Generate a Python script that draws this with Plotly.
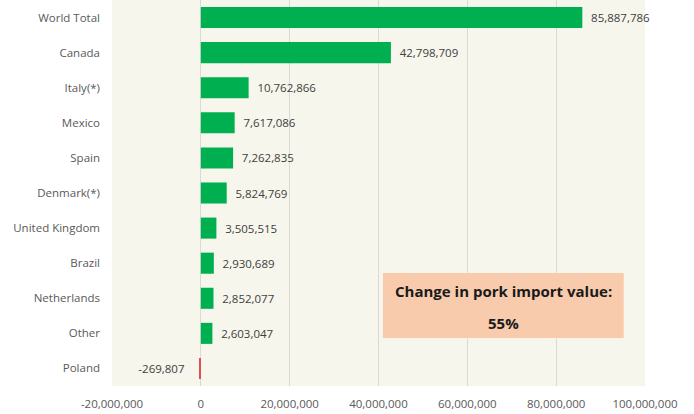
import plotly.graph_objects as go

countries = ["World Total", "Canada", "Italy(*)", "Mexico", "Spain", "Denmark(*)",
             "United Kingdom", "Brazil", "Netherlands", "Other", "Poland"]
values = [85887786, 42798709, 10762866, 7617086, 7262835, 5824769,
          3505515, 2930689, 2852077, 2603047, -269807]
tick_vals = [-20000000, 0, 20000000, 40000000, 60000000, 80000000, 100000000]
tick_text = ["-20,000,000", "0", "20,000,000", "40,000,000", "60,000,000", "80,000,000", "100,000,000"]

colors = ["#00b050" if v >= 0 else "#e05050" for v in values]
labels = [("\u2002" + f"{v:,}") if v >= 0 else (f"{v:,}" + "\u2002\u2002") for v in values]

FONT = "Open Sans, Liberation Sans, sans-serif"

fig = go.Figure(go.Bar(
    y=countries, x=values, orientation="h",
    marker=dict(color=colors, line=dict(width=0)),
    width=0.6,
    text=labels, textposition="outside", cliponaxis=False,
    textfont=dict(family=FONT, size=11.5, color="#404040"),
    hoverinfo="skip",
))

fig.update_layout(
    width=694, height=414,
    margin=dict(l=112, r=49, t=0, b=28),
    paper_bgcolor="white", plot_bgcolor="#f7f6ec",
    showlegend=False,
    font=dict(family=FONT, size=11.5, color="#595959"),
    xaxis=dict(range=[-20000000, 100000000], tickvals=tick_vals, ticktext=tick_text,
               showgrid=True, gridcolor="#d9d9d9", gridwidth=1, zeroline=True,
               zerolinecolor="#d9d9d9", zerolinewidth=1, ticks="", fixedrange=True,
               showline=False, ticklabelstandoff=9),
    yaxis=dict(categoryorder="array", categoryarray=countries[::-1], ticks="",
               ticklabelstandoff=11, showgrid=False, automargin=False, fixedrange=True),
    shapes=[dict(type="rect", xref="x", yref="paper", x0=41000000, x1=95200000,
                 y0=(386 - 338) / 386, y1=(386 - 273) / 386,
                 fillcolor="#f8cbad", line=dict(width=0), layer="above")],
    annotations=[
        dict(text="<b>Change in pork import value:</b>", x=68100000, xref="x",
             y=(386 - 291) / 386, yref="paper", yanchor="middle", xanchor="center",
             showarrow=False,
             font=dict(family=FONT, size=15, color="#1a1a1a")),
        dict(text="<b>55%</b>", x=68100000, xref="x",
             y=(386 - 323) / 386, yref="paper", yanchor="middle", xanchor="center",
             showarrow=False,
             font=dict(family=FONT, size=15, color="#1a1a1a")),
    ],
)

fig.write_html("out.html", config={"displayModeBar": False},
               post_script="document.body.style.margin='0';")
